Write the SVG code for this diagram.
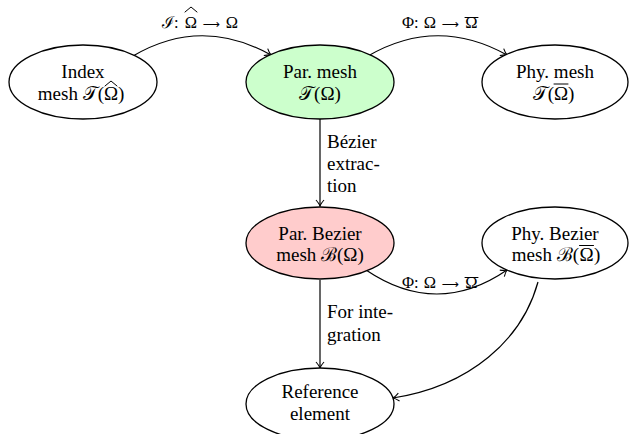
<svg xmlns="http://www.w3.org/2000/svg" width="629" height="434" viewBox="0 0 629 434">
<style>
.n{stroke:#000;stroke-width:1.3}
.t{text-anchor:middle}
.s{font-size:16.5px}
.a{font-family:"DejaVu Sans",sans-serif;font-size:12px;font-weight:normal}
.e{fill:none;stroke:#000;stroke-width:1.2}
.b{fill:none;stroke:#000;stroke-width:1;stroke-linecap:round;stroke-linejoin:round}
</style>
<defs>
<marker id="ar" markerUnits="userSpaceOnUse" markerWidth="14" markerHeight="14" viewBox="-8 -7 10 14" refX="0" refY="0" orient="auto">
<path d="M-6,-4 Q-2,-0.6 0,0 Q-2,0.6 -6,4" fill="none" stroke="#000" stroke-width="1.1"/>
</marker>
</defs>
<rect width="629" height="434" fill="#fff"/>
<g font-family="Liberation Serif, Times New Roman, Times, serif" font-size="19" fill="#000">
<g id="connectors">
<path class="e" d="M133,56 Q201,16 271,55" marker-end="url(#ar)"/>
<path class="e" d="M368,56 Q437,16 507,55" marker-end="url(#ar)"/>
<path class="e" d="M320,119 L320,206" marker-end="url(#ar)"/>
<path class="e" d="M366,270 Q437,318 507,270" marker-end="url(#ar)"/>
<path class="e" d="M320,280 L320,368" marker-end="url(#ar)"/>
<path class="e" d="M538,282 C522,340 470,386 393,398" marker-end="url(#ar)"/>
<text class="s" y="28"><tspan x="162">ℐ:</tspan><tspan x="191" text-anchor="middle">Ω</tspan><tspan class="a" x="211" dy="-0.5" text-anchor="middle">⟶</tspan><tspan x="232" dy="0.5" text-anchor="middle">Ω</tspan></text>
<path class="b" d="M185,12 L191,7 L197,12"/>
<text class="s" y="28"><tspan x="402">Φ:</tspan><tspan x="430" text-anchor="middle">Ω</tspan><tspan class="a" x="450" dy="-0.5" text-anchor="middle">⟶</tspan><tspan x="471.5" dy="0.5" text-anchor="middle">Ω</tspan></text>
<path class="b" d="M465,17.5 H478"/>
<text x="327" y="148">Bézier</text>
<text x="327" y="170">extrac-</text>
<text x="327" y="192">tion</text>
<text class="s" y="288"><tspan x="402">Φ:</tspan><tspan x="430" text-anchor="middle">Ω</tspan><tspan class="a" x="450" dy="-0.5" text-anchor="middle">⟶</tspan><tspan x="471.5" dy="0.5" text-anchor="middle">Ω</tspan></text>
<path class="b" d="M465,277.5 H478"/>
<text x="327" y="318">For inte-</text>
<text x="327" y="341">gration</text>
</g>
<g id="index">
<ellipse class="n" cx="83" cy="82" rx="74" ry="37" fill="#fff"/>
<text class="t" x="83" y="78">Index</text>
<text y="100"><tspan x="104" text-anchor="end">mesh 𝒯(</tspan><tspan x="111" text-anchor="middle">Ω</tspan><tspan x="118">)</tspan></text>
<path class="b" d="M105,86 L111,81 L117,86"/>
</g>
<g id="parmesh">
<ellipse class="n" cx="320" cy="82" rx="74" ry="37" fill="#ccffcc"/>
<text class="t" x="320" y="78">Par. mesh</text>
<text class="t" x="320" y="100">𝒯(Ω)</text>
</g>
<g id="phymesh">
<ellipse class="n" cx="555" cy="82" rx="73" ry="37" fill="#fff"/>
<text class="t" x="555" y="78">Phy. mesh</text>
<text y="100"><tspan x="554" text-anchor="end">𝒯(</tspan><tspan x="561" text-anchor="middle">Ω</tspan><tspan x="568">)</tspan></text>
<path class="b" d="M554,84 H568"/>
</g>
<g id="parbezier">
<ellipse class="n" cx="320" cy="243" rx="74" ry="36" fill="#ffcccc"/>
<text class="t" x="320" y="240">Par. Bezier</text>
<text class="t" x="320" y="261">mesh ℬ(Ω)</text>
</g>
<g id="phybezier">
<ellipse class="n" cx="555" cy="243" rx="73" ry="36" fill="#fff"/>
<text class="t" x="555" y="240">Phy. Bezier</text>
<text y="261"><tspan x="579" text-anchor="end">mesh ℬ(</tspan><tspan x="586.5" text-anchor="middle">Ω</tspan><tspan x="594">)</tspan></text>
<path class="b" d="M579.5,245.5 H593.5"/>
</g>
<g id="reference">
<ellipse class="n" cx="320" cy="404" rx="74" ry="36" fill="#fff"/>
<text class="t" x="320" y="398">Reference</text>
<text class="t" x="320" y="420">element</text>
</g>
</g>
</svg>
